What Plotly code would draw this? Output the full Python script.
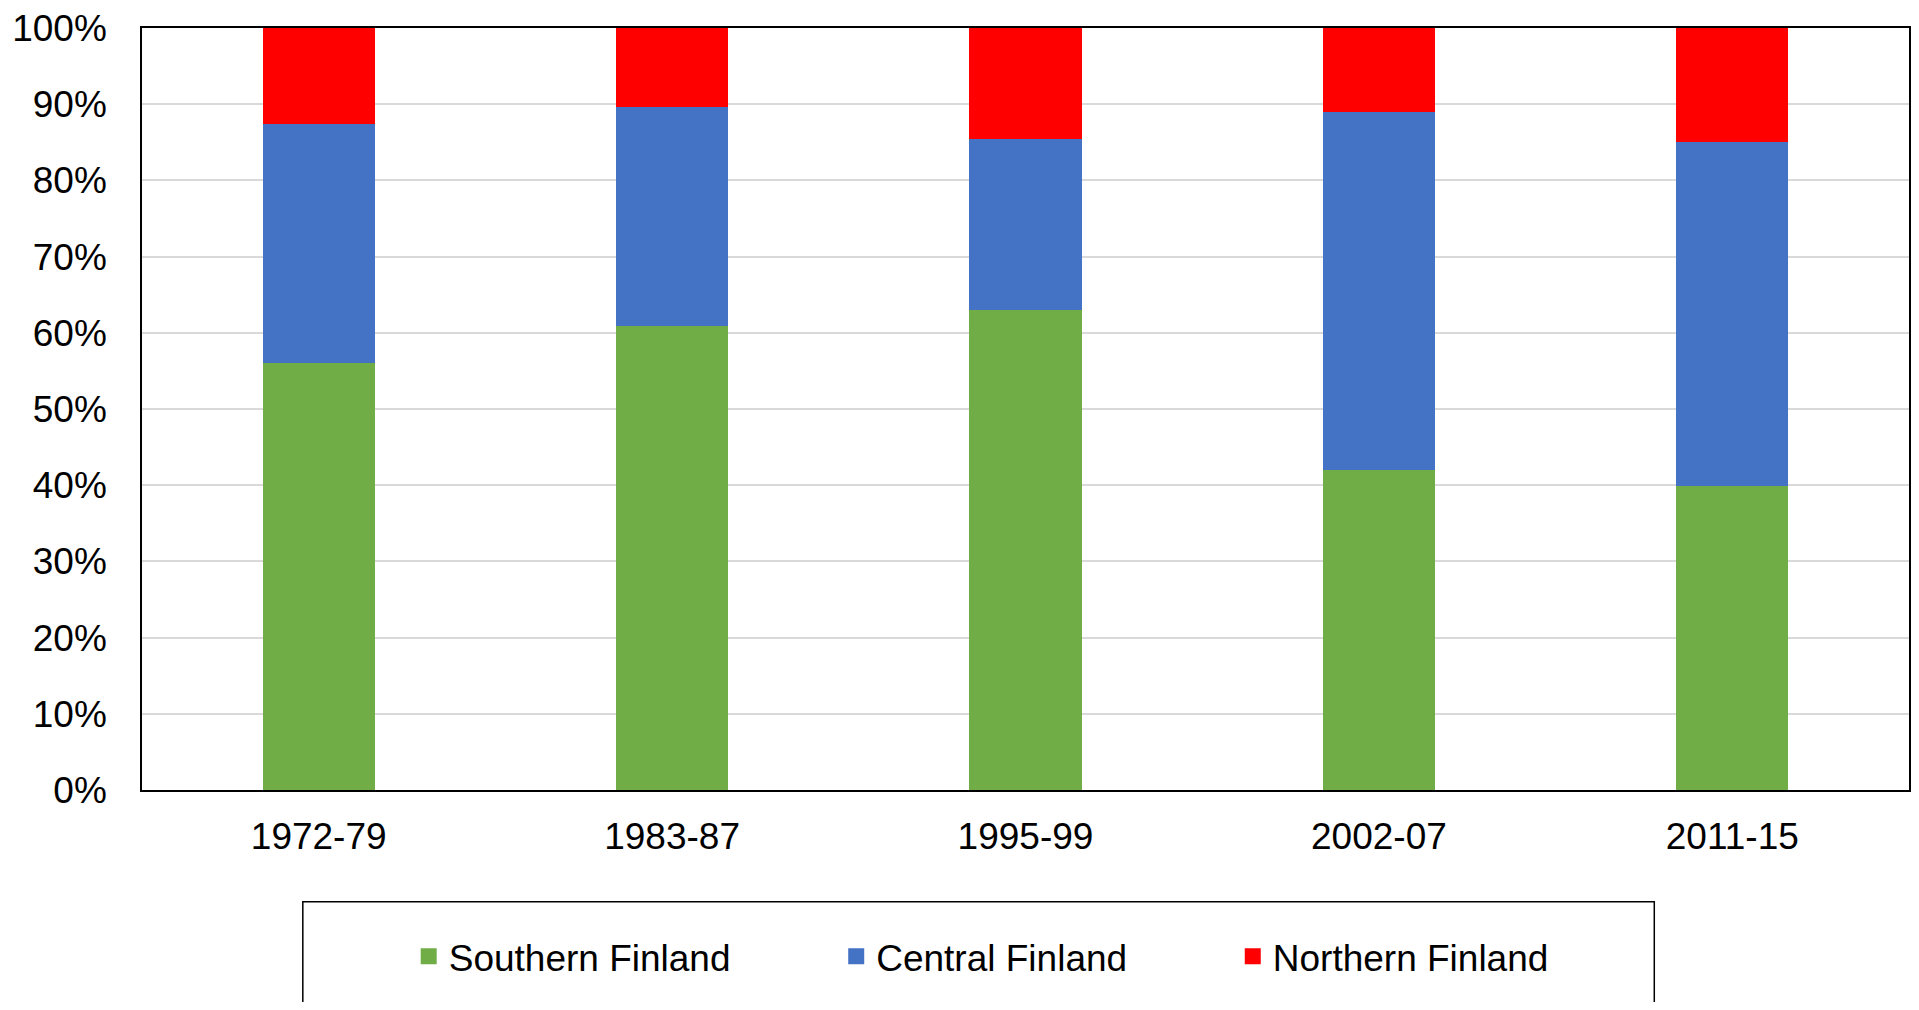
import plotly.graph_objects as go

periods = ["1972-79", "1983-87", "1995-99", "2002-07", "2011-15"]
southern = [0.561, 0.609, 0.630, 0.420, 0.399]
central = [0.313, 0.287, 0.224, 0.470, 0.451]
northern = [0.126, 0.104, 0.146, 0.110, 0.150]
series_names = ["Southern Finland", "Central Finland", "Northern Finland"]
series_colors = ["#70AD47", "#4472C4", "#FF0000"]
y_ticks = [i / 10 for i in range(11)]
y_tick_labels = [f"{i * 10}%" for i in range(11)]

FONT = "Liberation Sans, Arial, sans-serif"
OFF = 8  # page body offset
W, H = 1919 - 2 * OFF, 1010 - 2 * OFF
ML, MT = 142 - OFF, 27 - OFF
PLOT_RIGHT, PLOT_BOTTOM = W, 790 - OFF
MR, MB = W - PLOT_RIGHT, H - PLOT_BOTTOM
PW = W - ML - MR
PH = H - MT - MB

fig = go.Figure()
legend_ids = ["legend", "legend2", "legend3"]
for vals, name, col in zip([southern, central, northern], series_names, series_colors):
    fig.add_trace(go.Bar(x=periods, y=vals, name=name, marker=dict(color=col, line=dict(width=0)),
                         showlegend=False))
for name, col, lid in zip(series_names, series_colors, legend_ids):
    fig.add_trace(go.Scatter(x=[None], y=[None], mode="markers", name=name,
                             marker=dict(symbol="square", size=20, color=col, line=dict(width=0)),
                             legend=lid, showlegend=True))

def px_x(px):
    return (px - OFF - ML) / PW

def px_y(py):
    return (H - MB - (py - OFF)) / PH

text_starts = [449, 877, 1274]
leg_common = dict(orientation="h", yanchor="middle", y=px_y(957), xanchor="left",
                  font=dict(family=FONT, size=37, color="black"),
                  bgcolor="rgba(0,0,0,0)", borderwidth=0)
legends = {}
for lid, ts in zip(legend_ids, text_starts):
    legends[lid] = dict(leg_common, x=px_x(ts - 40))

fig.update_layout(
    width=W, height=H,
    margin=dict(l=ML, r=MR, t=MT, b=MB, pad=0),
    paper_bgcolor="white", plot_bgcolor="white",
    barmode="stack", bargap=0.682,
    font=dict(family=FONT, size=37, color="black"),
    **legends,
    shapes=[dict(type="rect", xref="paper", yref="paper",
                 x0=px_x(303), x1=px_x(1656), y0=px_y(902), y1=px_y(1040),
                 line=dict(color="black", width=1.5), fillcolor="rgba(0,0,0,0)", layer="above")],
)
fig.update_xaxes(type="category", showline=True, linecolor="black", linewidth=1.5, mirror=True,
                 showgrid=False, ticks="", tickfont=dict(family=FONT, size=37, color="black"),
                 ticklabelstandoff=13)
fig.update_yaxes(range=[0, 1], tickvals=y_ticks, ticktext=y_tick_labels,
                 showline=True, linecolor="black", linewidth=1.5, mirror=True,
                 showgrid=True, gridcolor="#D9D9D9", gridwidth=1.5, zeroline=False,
                 ticks="", tickfont=dict(family=FONT, size=37, color="black"),
                 ticklabelstandoff=26, ticklabeloverflow="allow")

fig.write_html("out.html")
